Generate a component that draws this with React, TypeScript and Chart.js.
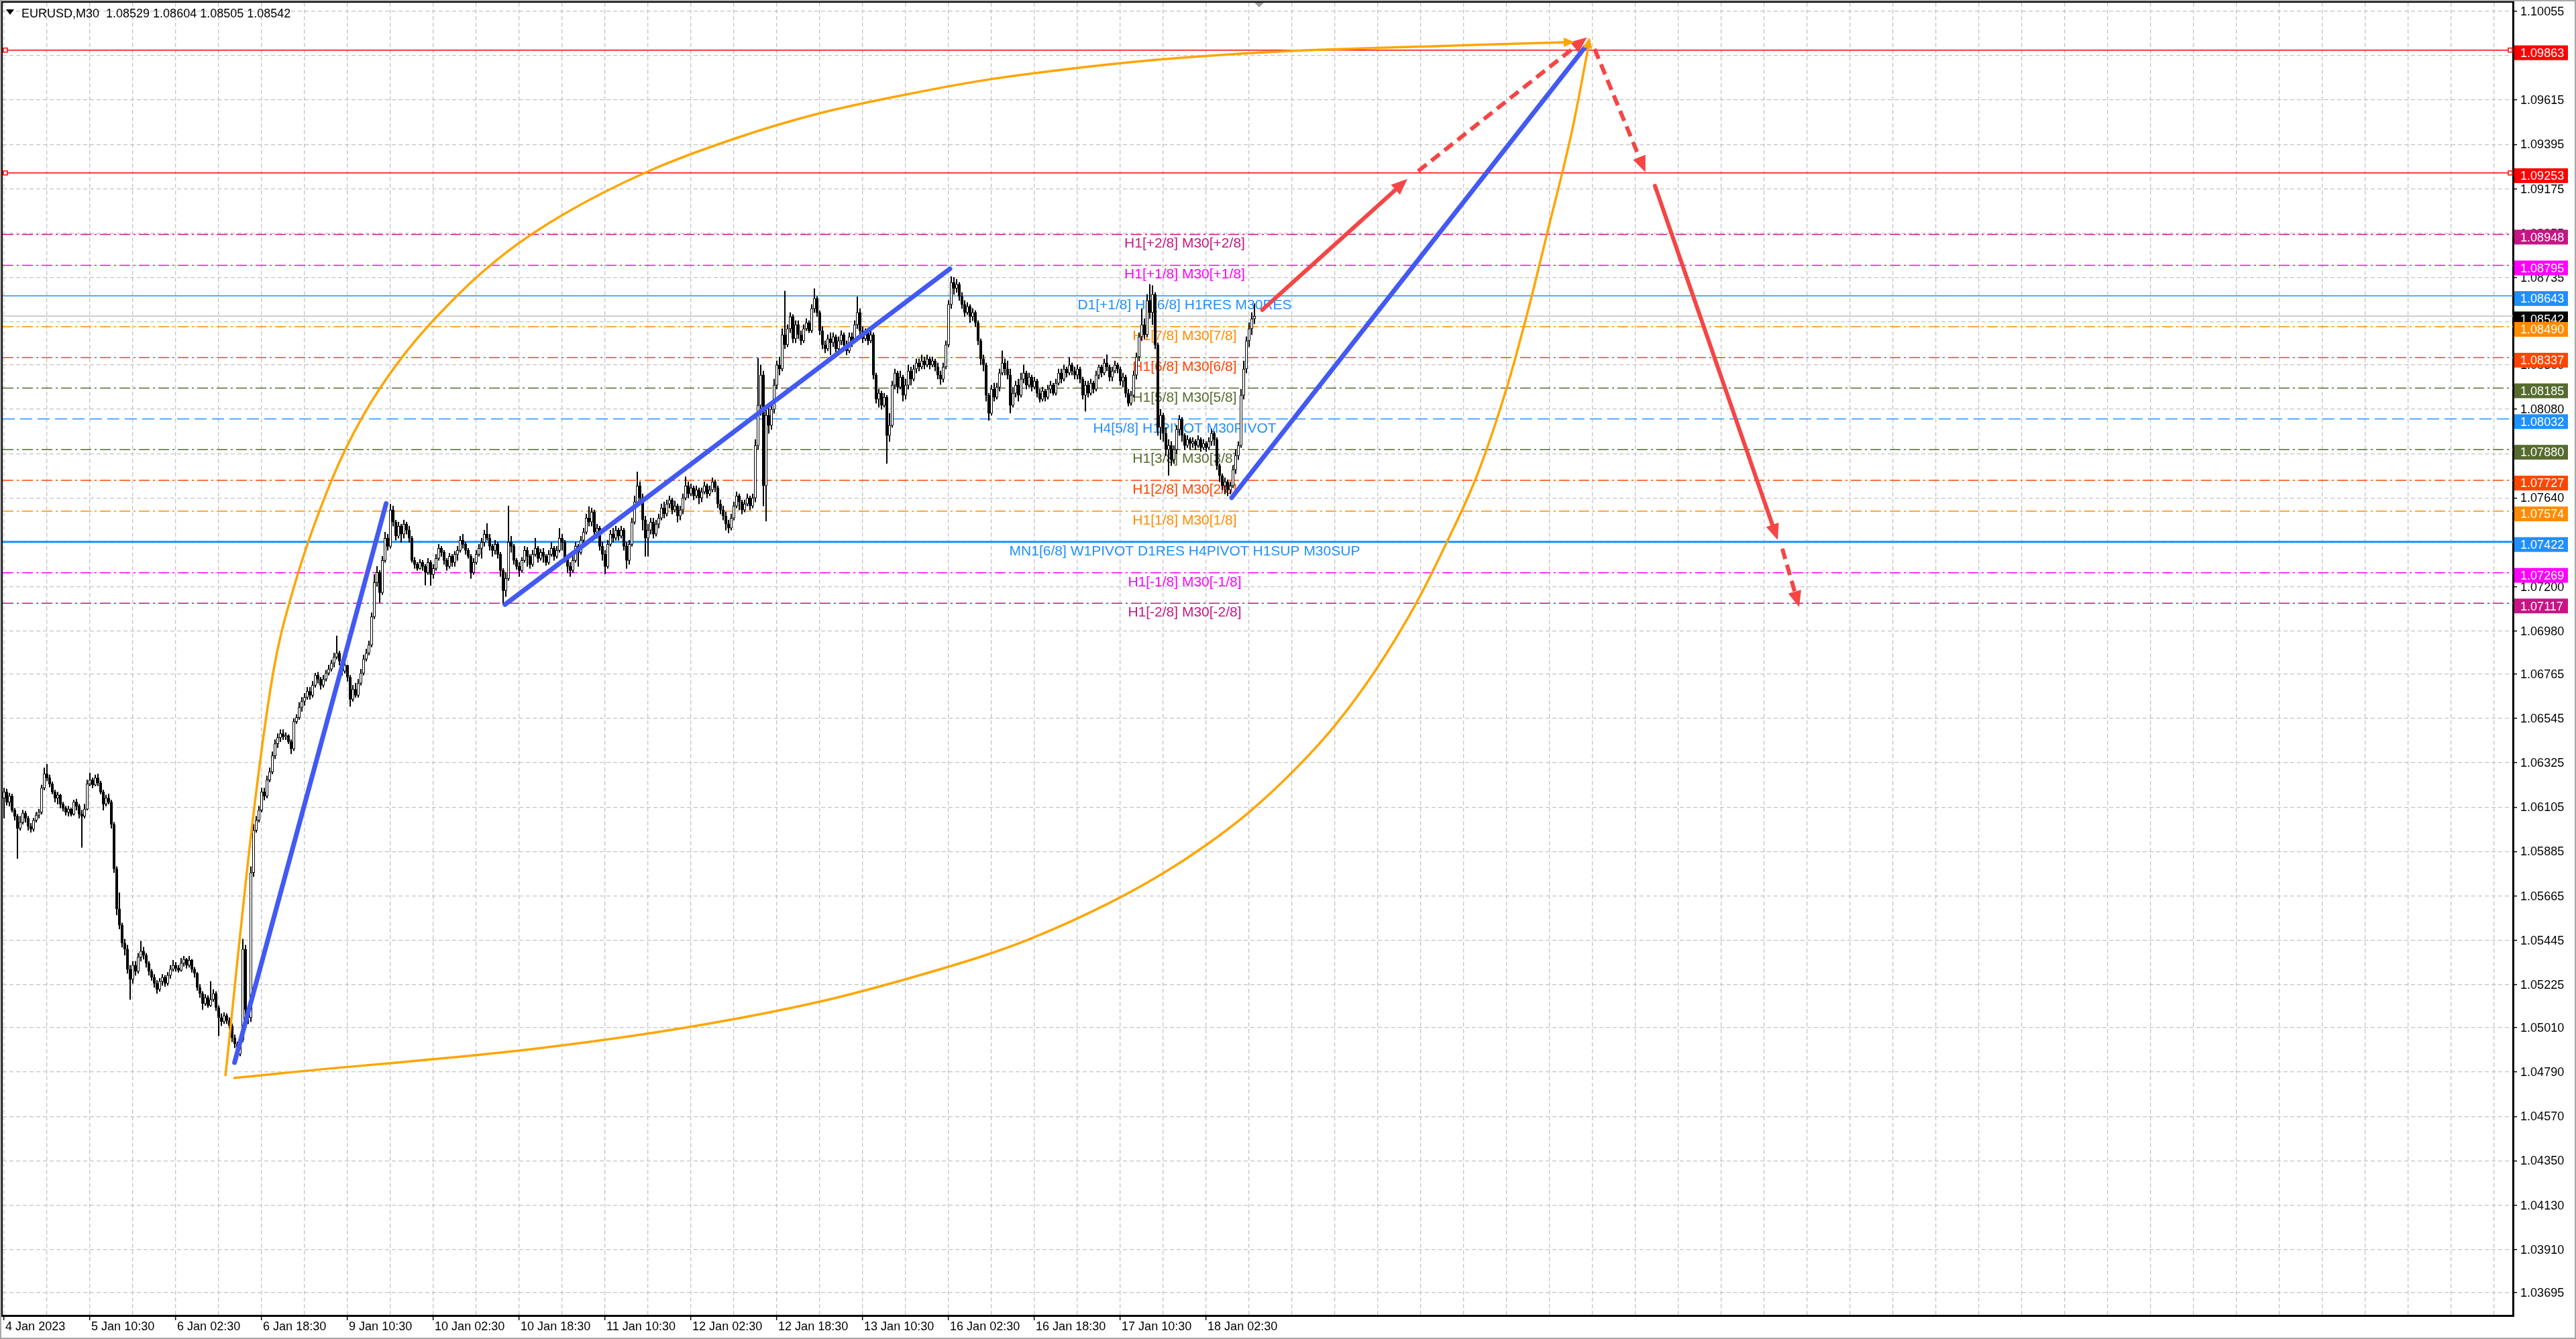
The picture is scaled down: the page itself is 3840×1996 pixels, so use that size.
import { useEffect, useRef } from 'react';
import { Chart, registerables } from 'chart.js';

Chart.register(...registerables);

// prices are stored in 1e-5 steps above 1.00000 (6180 -> 1.06180)
const PIP = 0.00001;
const firstOpen = 6150;

// EURUSD M30 candles (bar 0 = 4 Jan 18:30)
const closes = [
  6180, 6130, 6160, 6090, 6060, 6000, 6030, 6075, 6050, 6010, 5995, 6040, 6065, 6080, 6200, 6270,
  6250, 6220, 6180, 6150, 6165, 6120, 6100, 6080, 6095, 6070, 6130, 6110, 6070, 6060, 6095, 6220,
  6240, 6215, 6250, 6225, 6180, 6120, 6150, 6130, 6020, 5800, 5600, 5520, 5430, 5400, 5300, 5250,
  5320, 5290, 5360, 5390, 5370, 5330, 5290, 5260, 5230, 5200, 5240, 5260, 5230, 5270, 5300, 5320,
  5305, 5295, 5330, 5350, 5320, 5345, 5300, 5280, 5210, 5180, 5130, 5160, 5120, 5150, 5180, 5110,
  5060, 5040, 5070, 5045, 5020, 4960, 4930, 4880, 4950, 5400, 5100, 5060, 5780, 5990, 6040, 6090,
  6180, 6160, 6240, 6280, 6360, 6420, 6450, 6470, 6455, 6460, 6430, 6395, 6530, 6550, 6600, 6630,
  6650, 6680, 6660, 6710, 6760, 6740, 6710, 6740, 6770, 6790, 6820, 6850, 6870, 6830, 6780, 6810,
  6750, 6640, 6690, 6660, 6720, 6770, 6840, 6870, 6910, 7050, 7220, 7270, 7170, 7330, 7440, 7400,
  7580, 7520, 7450, 7500, 7460, 7510, 7480, 7440, 7330, 7310, 7290, 7320, 7300, 7270, 7320, 7260,
  7290, 7340, 7390, 7370, 7330, 7300, 7350, 7320, 7360, 7380, 7430, 7410, 7380, 7350, 7270, 7320,
  7360, 7390, 7420, 7460, 7440, 7400, 7380, 7410, 7360, 7280, 7180, 7240, 7420, 7400, 7330, 7300,
  7280, 7330, 7380, 7350, 7310, 7360, 7390, 7340, 7370, 7350, 7320, 7360, 7390, 7350, 7380, 7440,
  7420, 7340, 7300, 7280, 7330, 7400, 7370, 7430, 7470, 7540, 7520, 7570, 7470, 7490, 7400, 7360,
  7300, 7410, 7460, 7440, 7480, 7450, 7480, 7400, 7330, 7410, 7520, 7620, 7700, 7640, 7530, 7440,
  7480, 7520, 7460, 7510, 7540, 7590, 7560, 7610, 7630, 7580, 7600, 7550, 7580, 7640, 7700, 7660,
  7690, 7650, 7680, 7640, 7670, 7700, 7660, 7680, 7720, 7690, 7610, 7580, 7550, 7510, 7490, 7540,
  7600, 7650, 7620, 7580, 7610, 7640, 7600, 7640, 7900, 8100, 8250, 7700, 8050, 8000, 8080, 8200,
  8300, 8280, 8450, 8400, 8480, 8540, 8430, 8500, 8450, 8420, 8480, 8510, 8470, 8580, 8630, 8560,
  8470, 8400, 8380, 8430, 8410, 8440, 8380, 8420, 8450, 8400, 8370, 8440, 8420, 8500, 8560, 8470,
  8430, 8460, 8420, 8450, 8250, 8130, 8160, 8100, 8140, 7950, 8000, 8200, 8260, 8190, 8240, 8150,
  8200, 8270, 8230, 8280, 8310, 8290, 8320, 8300, 8330, 8300, 8320, 8290, 8250, 8230, 8290, 8400,
  8600, 8710, 8680, 8700, 8640, 8600, 8560, 8590, 8540, 8560, 8510, 8420, 8330, 8300, 8150, 8060,
  8180, 8140, 8190, 8260, 8310, 8280, 8250, 8100, 8160, 8200, 8150, 8230, 8260, 8200, 8240, 8190,
  8220, 8160, 8130, 8170, 8140, 8180, 8200, 8160, 8210, 8260, 8230, 8280, 8260, 8300, 8270, 8250,
  8280, 8230, 8150, 8200, 8160, 8210, 8180, 8250, 8290, 8260, 8310, 8290, 8240, 8270, 8300, 8280,
  8220, 8240, 8160, 8110, 8150, 8250, 8340, 8440, 8500, 8450, 8620, 8560, 8650, 8400, 7990, 8050,
  7960, 7880, 7900, 7830, 7880, 7980, 8030, 7950, 7900, 7930, 7910, 7920, 7900, 7930, 7890, 7910,
  7890, 7920, 7960, 7930, 7800, 7750, 7700, 7720, 7680, 7700, 7780, 7850, 7900, 8150, 8280, 8420,
  8480, 8529, 8542,
];

const highs = [
  6200, 6195, 6175, 6170, 6100, 6070, 6060, 6090, 6085, 6060, 6025, 6050, 6080, 6095, 6215, 6300,
  6318, 6265, 6230, 6190, 6180, 6170, 6130, 6110, 6110, 6100, 6140, 6145, 6120, 6090, 6120, 6240,
  6275, 6250, 6265, 6270, 6235, 6190, 6165, 6170, 6140, 6030, 5810, 5680, 5530, 5450, 5420, 5320,
  5340, 5340, 5380, 5440, 5410, 5380, 5340, 5300, 5275, 5245, 5255, 5275, 5270, 5285, 5320, 5345,
  5335, 5320, 5355, 5365, 5355, 5365, 5350, 5310, 5285, 5225, 5190, 5175, 5170, 5240, 5200, 5190,
  5120, 5080, 5085, 5080, 5060, 5030, 4975, 4940, 4965, 5450, 5420, 5120, 5810, 6020, 6060, 6110,
  6200, 6200, 6260, 6300, 6380, 6440, 6470, 6490, 6490, 6475, 6465, 6440, 6545, 6565, 6625, 6650,
  6670, 6700, 6700, 6730, 6770, 6775, 6750, 6760, 6785, 6810, 6835, 6870, 6955, 6880, 6840, 6830,
  6800, 6760, 6710, 6720, 6740, 6790, 6860, 6890, 6930, 7070, 7260, 7300, 7280, 7350, 7470, 7460,
  7609, 7600, 7530, 7520, 7510, 7530, 7520, 7500, 7450, 7345, 7320, 7335, 7330, 7310, 7340, 7330,
  7310, 7360, 7410, 7400, 7380, 7340, 7365, 7360, 7375, 7400, 7450, 7460, 7420, 7390, 7360, 7340,
  7380, 7410, 7440, 7480, 7513, 7460, 7410, 7430, 7420, 7370, 7290, 7270, 7600, 7450, 7410, 7340,
  7320, 7345, 7400, 7395, 7360, 7380, 7440, 7400, 7385, 7390, 7360, 7380, 7420, 7400, 7400, 7489,
  7460, 7430, 7350, 7320, 7350, 7420, 7410, 7450, 7490, 7560, 7597, 7590, 7580, 7510, 7500, 7420,
  7380, 7430, 7480, 7490, 7500, 7490, 7500, 7490, 7420, 7430, 7540, 7650, 7769, 7720, 7660, 7550,
  7510, 7540, 7540, 7530, 7560, 7610, 7620, 7630, 7650, 7640, 7625, 7610, 7600, 7660, 7745, 7720,
  7710, 7700, 7700, 7690, 7690, 7720, 7710, 7700, 7740, 7730, 7700, 7630, 7600, 7570, 7530, 7560,
  7620, 7670, 7660, 7630, 7630, 7660, 7650, 7660, 7930, 8334, 8300, 8270, 8100, 8110, 8100, 8230,
  8320, 8340, 8480, 8667, 8500, 8560, 8550, 8520, 8520, 8470, 8500, 8530, 8520, 8600, 8679, 8640,
  8570, 8490, 8420, 8450, 8460, 8460, 8450, 8440, 8470, 8460, 8420, 8460, 8460, 8520, 8638, 8580,
  8490, 8480, 8470, 8470, 8460, 8260, 8180, 8170, 8160, 8150, 8060, 8220, 8280, 8270, 8270, 8250,
  8230, 8300, 8290, 8300, 8330, 8330, 8350, 8340, 8350, 8340, 8340, 8330, 8310, 8270, 8310, 8420,
  8620, 8739, 8735, 8725, 8710, 8660, 8620, 8610, 8600, 8580, 8570, 8520, 8430, 8350, 8310, 8160,
  8200, 8210, 8210, 8280, 8370, 8330, 8320, 8280, 8190, 8220, 8230, 8260, 8300, 8270, 8260, 8250,
  8240, 8230, 8180, 8190, 8180, 8200, 8220, 8210, 8230, 8280, 8280, 8300, 8290, 8338, 8310, 8290,
  8300, 8290, 8240, 8220, 8220, 8230, 8220, 8270, 8300, 8300, 8330, 8351, 8300, 8290, 8320, 8310,
  8290, 8260, 8250, 8180, 8170, 8270, 8360, 8460, 8580, 8530, 8650, 8700, 8694, 8660, 8410, 8080,
  8060, 7990, 7930, 7920, 7900, 8000, 8050, 8040, 7960, 7950, 7940, 7940, 7930, 7950, 7940, 7930,
  7920, 7940, 7981, 7970, 7940, 7810, 7760, 7740, 7730, 7720, 7800, 7880, 7920, 8180, 8320, 8440,
  8510, 8560, 8604,
];

const lows = [
  6050, 6115, 6110, 6080, 6040, 5850, 5990, 6020, 6030, 5990, 5980, 5985, 6030, 6050, 6070, 6190,
  6235, 6205, 6170, 6130, 6120, 6100, 6085, 6065, 6060, 6060, 6065, 6090, 6050, 5905, 6050, 6090,
  6210, 6200, 6210, 6210, 6170, 6090, 6110, 6120, 6000, 5780, 5570, 5500, 5410, 5370, 5280, 5150,
  5230, 5270, 5280, 5340, 5350, 5310, 5270, 5245, 5210, 5180, 5190, 5220, 5215, 5220, 5255, 5290,
  5290, 5285, 5290, 5315, 5305, 5310, 5285, 5260, 5195, 5160, 5100, 5120, 5110, 5115, 5140, 5095,
  4970, 5020, 5030, 5030, 5005, 4940, 4910, 4860, 4870, 4940, 5070, 5030, 5040, 5760, 5980, 6030,
  6080, 6140, 6150, 6230, 6270, 6345, 6400, 6430, 6440, 6440, 6420, 6370, 6385, 6520, 6540, 6580,
  6610, 6640, 6640, 6650, 6700, 6720, 6690, 6700, 6730, 6760, 6780, 6800, 6840, 6810, 6760, 6770,
  6730, 6605, 6630, 6650, 6650, 6710, 6760, 6830, 6860, 6900, 7040, 7200, 7121, 7160, 7320, 7380,
  7390, 7500, 7430, 7440, 7420, 7440, 7460, 7420, 7320, 7290, 7280, 7285, 7280, 7207, 7260, 7205,
  7240, 7280, 7330, 7350, 7310, 7280, 7290, 7300, 7300, 7330, 7370, 7390, 7360, 7340, 7240, 7260,
  7310, 7350, 7340, 7400, 7430, 7380, 7350, 7360, 7340, 7250, 7111, 7150, 7230, 7370, 7310, 7285,
  7250, 7270, 7320, 7300, 7290, 7300, 7350, 7320, 7330, 7320, 7305, 7310, 7350, 7330, 7340, 7370,
  7380, 7320, 7270, 7250, 7270, 7320, 7300, 7360, 7410, 7460, 7500, 7500, 7450, 7440, 7380, 7330,
  7263, 7290, 7400, 7420, 7430, 7430, 7440, 7380, 7290, 7310, 7400, 7510, 7600, 7620, 7480, 7350,
  7350, 7460, 7440, 7450, 7490, 7530, 7540, 7550, 7590, 7560, 7570, 7520, 7530, 7560, 7630, 7640,
  7650, 7630, 7640, 7610, 7620, 7660, 7640, 7650, 7670, 7670, 7590, 7560, 7530, 7480, 7466, 7480,
  7530, 7590, 7580, 7560, 7570, 7600, 7580, 7590, 7620, 7880, 8050, 7600, 7525, 7960, 7980, 8060,
  8180, 8250, 8270, 8380, 8390, 8460, 8410, 8410, 8430, 8400, 8410, 8470, 8460, 8460, 8560, 8540,
  8450, 8380, 8360, 8370, 8350, 8390, 8346, 8370, 8400, 8380, 8350, 8360, 8390, 8410, 8480, 8440,
  8410, 8420, 8400, 8410, 8230, 8110, 8090, 8080, 8090, 7811, 7920, 7990, 8180, 8160, 8180, 8120,
  8130, 8180, 8200, 8220, 8260, 8270, 8280, 8280, 8290, 8280, 8290, 8270, 8230, 8203, 8215, 8280,
  8390, 8580, 8650, 8660, 8620, 8580, 8540, 8550, 8510, 8520, 8490, 8400, 8300, 8270, 8120, 8025,
  8050, 8120, 8130, 8170, 8250, 8250, 8230, 8061, 8090, 8140, 8120, 8140, 8210, 8180, 8190, 8170,
  8180, 8140, 8115, 8120, 8120, 8130, 8160, 8150, 8150, 8200, 8210, 8220, 8240, 8250, 8250, 8230,
  8230, 8210, 8130, 8070, 8140, 8150, 8160, 8170, 8230, 8240, 8250, 8270, 8220, 8220, 8260, 8260,
  8200, 8190, 8140, 8096, 8100, 8140, 8230, 8320, 8420, 8430, 8440, 8530, 8500, 8380, 7950, 7930,
  7920, 7850, 7752, 7800, 7810, 7860, 7950, 7920, 7880, 7890, 7880, 7890, 7880, 7890, 7870, 7880,
  7870, 7880, 7900, 7900, 7780, 7720, 7680, 7660, 7650, 7660, 7690, 7760, 7830, 7890, 8130, 8260,
  8390, 8450, 8505,
];

// price scale
const yTickLabels = [
  '1.10055', '1.09835', '1.09615', '1.09395', '1.09175', '1.08955', '1.08735', '1.08515',
  '1.08300', '1.08080', '1.07860', '1.07640', '1.07420', '1.07200', '1.06980', '1.06765',
  '1.06545', '1.06325', '1.06105', '1.05885', '1.05665', '1.05445', '1.05225', '1.05010',
  '1.04790', '1.04570', '1.04350', '1.04130', '1.03910', '1.03695',
];
const Y_MIN = 1.035815;
const Y_MAX = 1.100983;

// time scale (bar numbers)
const dateLabels = [
  '4 Jan 2023', '5 Jan 10:30', '6 Jan 02:30', '6 Jan 18:30', '9 Jan 10:30', '10 Jan 02:30',
  '10 Jan 18:30', '11 Jan 10:30', '12 Jan 02:30', '12 Jan 18:30', '13 Jan 10:30', '16 Jan 02:30',
  '16 Jan 18:30', '17 Jan 10:30', '18 Jan 02:30',
];
const dateBars = [0, 32, 64, 96, 128, 160, 192, 224, 256, 288, 320, 352, 384, 416, 448];
const X_MIN = -0.5;
const X_MAX = 935;

// horizontal levels
const levelPrices = [
  1.09863, 1.09253, 1.08948, 1.08795, 1.08643, 1.08542, 1.0849, 1.08337,
  1.08185, 1.08032, 1.0788, 1.07727, 1.07574, 1.07422, 1.07269, 1.07117,
];
const levelTexts = [
  '', '', 'H1[+2/8] M30[+2/8]', 'H1[+1/8] M30[+1/8]', 'D1[+1/8] H4[6/8] H1RES M30RES', '',
  'H1[7/8] M30[7/8]', 'H1[6/8] M30[6/8]', 'H1[5/8] M30[5/8]', 'H4[5/8] H1PIVOT M30PIVOT',
  'H1[3/8] M30[3/8]', 'H1[2/8] M30[2/8]', 'H1[1/8] M30[1/8]',
  'MN1[6/8] W1PIVOT D1RES H4PIVOT H1SUP M30SUP', 'H1[-1/8] M30[-1/8]', 'H1[-2/8] M30[-2/8]',
];
const levelTextBar = 440;

// blue trend lines [bar, price]
const trendFrom = [[85.9, 1.04837], [186.7, 1.07111], [457.5, 1.07641]];
const trendTo = [[142.4, 1.07612], [352.5, 1.08777], [589.2, 1.09877]];

// red projection arrows
const arrowFrom = [[468.9, 1.08573], [527, 1.09262], [592.75, 1.09869], [615.25, 1.09189], [662.7, 1.07388]];
const arrowTo = [[523, 1.09223], [589.9, 1.09926], [611.7, 1.09257], [661, 1.07431], [669, 1.07098]];
const arrowDashed = [false, true, true, false, true];

// orange arcs, points picked along each curve
const upperArcBars = [82.5, 92.875, 100.5, 108.43, 122.2, 133.68, 148.6, 169.25, 187.63, 208.28, 239.85, 273.5, 304.75, 336, 366, 398.5, 427, 461, 489.75, 532.75, 581.5, 584.25];
const upperArcPrices = [1.0477, 1.0606, 1.06787, 1.07215, 1.07732, 1.08045, 1.08343, 1.08649, 1.08863, 1.09046, 1.0926, 1.09429, 1.09552, 1.09642, 1.09715, 1.09772, 1.09812, 1.09845, 1.09864, 1.09882, 1.09902, 1.09903];
const lowerArcBars = [85.5, 103, 198.5, 255.9, 303.85, 335.75, 367.5, 383.75, 411, 431.65, 447.7, 463.8, 479.9, 495.95, 510.85, 525.8, 537.75, 549, 560.25, 568, 575.25, 584.5, 590.9];
const lowerArcPrices = [1.0476, 1.04784, 1.04907, 1.05015, 1.05139, 1.0525, 1.05378, 1.05458, 1.05623, 1.05774, 1.05914, 1.06078, 1.06276, 1.0651, 1.06779, 1.07106, 1.07422, 1.07754, 1.08197, 1.08573, 1.08963, 1.09472, 1.09912];

const titleText = 'EURUSD,M30  1.08529 1.08604 1.08505 1.08542';

// ---- styles ----
const DASHDOT = [16, 5, 3, 5];
const levelStyle = [
  { line: '#ff0000', box: '#ff0000', dash: [], width: 1.5, square: true },
  { line: '#ff0000', box: '#ff0000', dash: [], width: 1.5, square: true },
  { line: '#c71585', box: '#c71585', dash: DASHDOT, width: 1.5 },
  { line: '#ff00ff', box: '#ff00ff', dash: DASHDOT, width: 1.5 },
  { line: '#1e90ff', box: '#1e90ff', dash: [], width: 1.5 },
  { line: '#c0c0c0', box: '#000000', dash: [], width: 1.5 },
  { line: '#ff8c00', box: '#ff8c00', dash: DASHDOT, width: 1.5 },
  { line: '#ff4500', box: '#ff4500', dash: DASHDOT, width: 1.5 },
  { line: '#556b2f', box: '#556b2f', dash: DASHDOT, width: 1.5 },
  { line: '#1e90ff', box: '#1e90ff', dash: [18, 8], width: 1.5 },
  { line: '#556b2f', box: '#556b2f', dash: DASHDOT, width: 1.5 },
  { line: '#ff4500', box: '#ff4500', dash: DASHDOT, width: 1.5 },
  { line: '#ff8c00', box: '#ff8c00', dash: DASHDOT, width: 1.5 },
  { line: '#1e90ff', box: '#1e90ff', dash: [], width: 3 },
  { line: '#ff00ff', box: '#ff00ff', dash: DASHDOT, width: 1.5 },
  { line: '#c71585', box: '#c71585', dash: DASHDOT, width: 1.5 },
];
const GRID = '#c4c4c4';
const BLUE = '#4259f2';
const RED = '#f54545';
const ORANGE = '#ffa500';
const AXIS_FONT = '19px "Liberation Sans", Arial, sans-serif';
const TEXT_FONT = '21px "Liberation Sans", Arial, sans-serif';

function textSqueezed(ctx: CanvasRenderingContext2D, text: string, x: number, y: number, sx: number) {
  ctx.save();
  ctx.translate(x, y);
  ctx.scale(sx, 1);
  ctx.fillText(text, 0, 0);
  ctx.restore();
}

function arrowHead(ctx: CanvasRenderingContext2D, x1: number, y1: number, x2: number, y2: number, len: number, half: number) {
  const a = Math.atan2(y2 - y1, x2 - x1);
  const c = Math.cos(a);
  const s = Math.sin(a);
  ctx.beginPath();
  ctx.moveTo(x2, y2);
  ctx.lineTo(x2 - c * len - s * half, y2 - s * len + c * half);
  ctx.lineTo(x2 - c * len + s * half, y2 - s * len - c * half);
  ctx.closePath();
  ctx.fill();
}

const overlay = {
  id: 'mt4Overlay',
  beforeDatasetsDraw(chart: any) {
    const { ctx, scales } = chart;
    ctx.save();
    ctx.font = TEXT_FONT;
    ctx.textAlign = 'center';
    ctx.textBaseline = 'alphabetic';
    levelPrices.forEach((p, i) => {
      if (!levelTexts[i]) return;
      ctx.fillStyle = levelStyle[i].box;
      ctx.fillText(levelTexts[i], scales.x.getPixelForValue(levelTextBar), scales.y.getPixelForValue(p) + 20);
    });
    ctx.restore();
  },
  afterDatasetsDraw(chart: any) {
    const { ctx, scales, chartArea } = chart;
    const X = (v: number) => scales.x.getPixelForValue(v);
    const Y = (v: number) => scales.y.getPixelForValue(v);
    ctx.save();

    // red arrows
    arrowFrom.forEach((f, i) => {
      const x1 = X(f[0]);
      const y1 = Y(f[1]);
      const x2 = X(arrowTo[i][0]);
      const y2 = Y(arrowTo[i][1]);
      const a = Math.atan2(y2 - y1, x2 - x1);
      ctx.strokeStyle = RED;
      ctx.fillStyle = RED;
      ctx.lineWidth = 6;
      ctx.lineCap = arrowDashed[i] ? 'butt' : 'round';
      ctx.setLineDash(arrowDashed[i] ? [16, 9] : []);
      ctx.beginPath();
      ctx.moveTo(x1, y1);
      ctx.lineTo(x2 - Math.cos(a) * 18, y2 - Math.sin(a) * 18);
      ctx.stroke();
      ctx.setLineDash([]);
      arrowHead(ctx, x1, y1, x2, y2, 24, 10);
    });

    // heads on the orange arcs
    ctx.fillStyle = ORANGE;
    const n1 = upperArcBars.length - 1;
    arrowHead(ctx, X(upperArcBars[n1 - 1]), Y(upperArcPrices[n1 - 1]), X(upperArcBars[n1]) + 4, Y(upperArcPrices[n1]), 16, 7);
    const n2 = lowerArcBars.length - 1;
    arrowHead(ctx, X(lowerArcBars[n2 - 1]), Y(lowerArcPrices[n2 - 1]), X(lowerArcBars[n2]), Y(lowerArcPrices[n2]) - 4, 16, 7);

    // little anchor squares on the red lines
    levelPrices.forEach((p, i) => {
      if (!levelStyle[i].square) return;
      const y = Y(p);
      ctx.fillStyle = '#ffffff';
      ctx.strokeStyle = '#ff0000';
      ctx.lineWidth = 1.5;
      [chartArea.left + 4, chartArea.right - 4].forEach((x) => {
        ctx.fillRect(x - 3, y - 3, 6, 6);
        ctx.strokeRect(x - 3, y - 3, 6, 6);
      });
    });
    ctx.restore();
  },
  afterDraw(chart: any) {
    const { ctx, scales, chartArea, width, height } = chart;
    const X = (v: number) => scales.x.getPixelForValue(v);
    const Y = (v: number) => scales.y.getPixelForValue(v);
    ctx.save();

    // frame
    ctx.strokeStyle = '#000000';
    ctx.lineWidth = 2;
    ctx.strokeRect(chartArea.left - 1, chartArea.top - 1, chartArea.right - chartArea.left + 2, chartArea.bottom - chartArea.top + 2);
    ctx.strokeStyle = '#a8a8a8';
    ctx.strokeRect(1, 1, width - 2, height - 2);

    // chart shift marker
    const sx = X(closes.length + 0.75);
    ctx.fillStyle = '#a0a0a0';
    ctx.beginPath();
    ctx.moveTo(sx - 7, chartArea.top);
    ctx.lineTo(sx + 7, chartArea.top);
    ctx.lineTo(sx, chartArea.top + 7);
    ctx.closePath();
    ctx.fill();

    // price labels
    ctx.font = AXIS_FONT;
    ctx.textAlign = 'left';
    ctx.textBaseline = 'middle';
    ctx.fillStyle = '#000000';
    yTickLabels.forEach((l) => {
      textSqueezed(ctx, l, chartArea.right + 11, Y(parseFloat(l)) + 1, 0.95);
    });
    levelPrices.forEach((p, i) => {
      const y = Y(p) + 4;
      ctx.fillStyle = levelStyle[i].box;
      ctx.fillRect(chartArea.right + 2, y - 11, 80, 22);
      ctx.fillStyle = '#ffffff';
      textSqueezed(ctx, p.toFixed(5), chartArea.right + 11, y + 1, 0.95);
    });

    // date labels
    ctx.fillStyle = '#000000';
    ctx.textBaseline = 'alphabetic';
    dateLabels.forEach((l, i) => {
      textSqueezed(ctx, l, X(dateBars[i]) + 2, chartArea.bottom + 22, 0.95);
    });

    // title
    ctx.beginPath();
    ctx.moveTo(9, 14);
    ctx.lineTo(21, 14);
    ctx.lineTo(15, 22);
    ctx.closePath();
    ctx.fill();
    ctx.font = '18px "Liberation Sans", Arial, sans-serif';
    ctx.fillText(titleText, 32, 26);
    ctx.restore();
  },
};

export default function App() {
  const canvasRef = useRef<HTMLCanvasElement>(null);
  const chartRef = useRef<Chart | null>(null);

  useEffect(() => {
    if (!canvasRef.current) return;
    document.body.style.margin = '0';
    document.body.style.overflow = 'hidden';

    const n = Math.min(closes.length, highs.length, lows.length);
    const opens = closes.slice(0, n).map((_, i) => (i === 0 ? firstOpen : closes[i - 1]));
    const wickData = opens.map((o, i) => ({
      x: i,
      y: [1 + Math.min(lows[i], o, closes[i]) * PIP, 1 + Math.max(highs[i], o, closes[i]) * PIP],
    }));
    const bodyData = opens.map((o, i) => ({ x: i, y: [1 + o * PIP, 1 + closes[i] * PIP] }));
    const bodyColors = opens.map((o, i) => (closes[i] >= o ? '#ffffff' : '#000000'));

    const levelSets = levelPrices.map((p, i) => ({
      type: 'line',
      data: [{ x: X_MIN, y: p }, { x: X_MAX, y: p }],
      borderColor: levelStyle[i].line,
      borderWidth: levelStyle[i].width,
      borderDash: levelStyle[i].dash,
      pointRadius: 0,
      order: 10,
    }));
    const trendSets = trendFrom.map((f, i) => ({
      type: 'line',
      data: [{ x: f[0], y: f[1] }, { x: trendTo[i][0], y: trendTo[i][1] }],
      borderColor: BLUE,
      borderWidth: 7,
      borderCapStyle: 'round',
      pointRadius: 0,
      order: 1,
    }));
    const arcSet = (bars: number[], prices: number[]) => ({
      type: 'line',
      data: bars.map((b, i) => ({ x: b, y: prices[i] })),
      borderColor: ORANGE,
      borderWidth: 3.5,
      cubicInterpolationMode: 'monotone',
      pointRadius: 0,
      order: 2,
    });

    chartRef.current = new Chart(canvasRef.current, {
      type: 'bar',
      data: {
        datasets: [
          ...levelSets,
          { type: 'bar', data: wickData, backgroundColor: '#000000', barThickness: 1.4, grouped: false, order: 5 },
          {
            type: 'bar',
            data: bodyData,
            backgroundColor: bodyColors,
            borderColor: '#000000',
            borderWidth: 1,
            borderSkipped: false,
            barThickness: 3.4,
            minBarLength: 1,
            grouped: false,
            order: 4,
          },
          arcSet(upperArcBars, upperArcPrices),
          arcSet(lowerArcBars, lowerArcPrices),
          ...trendSets,
        ] as any,
      },
      options: {
        responsive: true,
        maintainAspectRatio: false,
        animation: false,
        events: [],
        layout: { padding: { left: 4, top: 4, right: 0, bottom: 0 } },
        plugins: { legend: { display: false }, tooltip: { enabled: false } },
        scales: {
          x: {
            type: 'linear',
            min: X_MIN,
            max: X_MAX,
            offset: false,
            afterBuildTicks: (axis: any) => {
              const t = [];
              for (let b = 0; b <= X_MAX; b += 16) t.push({ value: b });
              axis.ticks = t;
            },
            afterFit: (axis: any) => {
              axis.height = 35;
            },
            ticks: { display: false },
            grid: {
              offset: false,
              color: GRID,
              lineWidth: 1.3,
              drawTicks: true,
              tickLength: 7,
              tickWidth: 1.5,
              tickColor: (c: any) => (c.tick && dateBars.includes(c.tick.value) ? '#000000' : 'rgba(0,0,0,0)'),
            },
            border: { display: true, color: '#000000', width: 2, dash: [6, 4] },
          },
          y: {
            type: 'linear',
            position: 'right',
            min: Y_MIN,
            max: Y_MAX,
            beginAtZero: false,
            afterBuildTicks: (axis: any) => {
              axis.ticks = yTickLabels.map((l) => ({ value: parseFloat(l) }));
            },
            afterFit: (axis: any) => {
              axis.width = 94;
            },
            ticks: { display: false },
            grid: {
              color: GRID,
              lineWidth: 1.3,
              drawTicks: true,
              tickLength: 6,
              tickWidth: 1.5,
              tickColor: '#000000',
            },
            border: { display: true, color: '#000000', width: 2, dash: [6, 4] },
          },
        },
      } as any,
      plugins: [overlay],
    });

    return () => {
      if (chartRef.current) {
        chartRef.current.destroy();
        chartRef.current = null;
      }
    };
  }, []);

  return (
    <div style={{ position: 'relative', width: '3840px', height: '1996px', background: '#ffffff' }}>
      <canvas ref={canvasRef}></canvas>
    </div>
  );
}
